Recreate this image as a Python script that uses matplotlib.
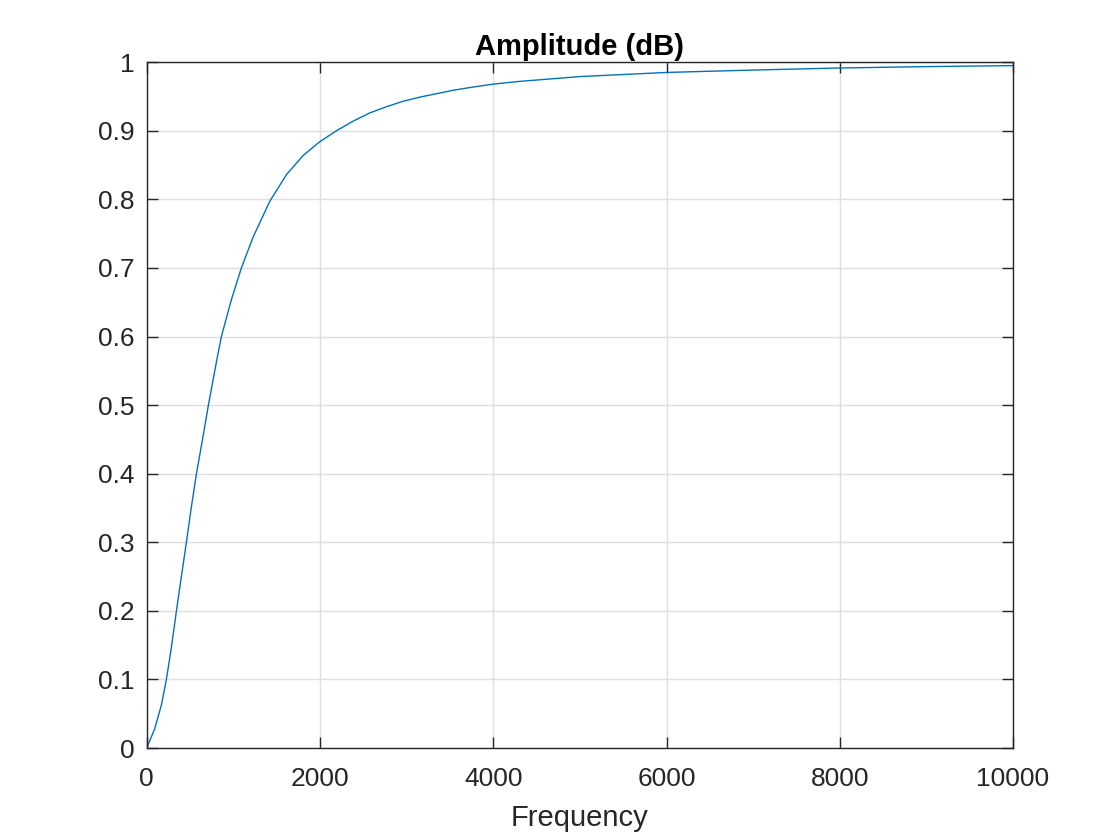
import numpy as np
import matplotlib
matplotlib.use('Agg')
import matplotlib.pyplot as plt

# values
freq = [0, 92, 170, 227, 285, 343, 400, 458, 516, 574, 651, 712, 812, 862, 978,
        1093, 1228, 1420, 1613, 1806, 1998, 2190, 2383, 2575, 2767, 2960, 3152,
        3345, 3537, 3730, 4000, 4307, 5000, 6000, 7000, 8000, 9000, 10000]
amp = [0, 0.028, 0.063, 0.1, 0.147, 0.2, 0.25, 0.3, 0.352, 0.4, 0.455, 0.5, 0.568,
       0.6, 0.654, 0.7, 0.745, 0.797, 0.836, 0.864, 0.884, 0.9, 0.914, 0.926,
       0.935, 0.943, 0.949, 0.954, 0.959, 0.963, 0.968, 0.972, 0.979, 0.985,
       0.9885, 0.9915, 0.9935, 0.995]
xticks = [0, 2000, 4000, 6000, 8000, 10000]
yticks = [0, 0.1, 0.2, 0.3, 0.4, 0.5, 0.6, 0.7, 0.8, 0.9, 1]
ytick_labels = ['0', '0.1', '0.2', '0.3', '0.4', '0.5', '0.6', '0.7', '0.8', '0.9', '1']

plt.rcParams['font.family'] = ['Liberation Sans', 'DejaVu Sans']

fig = plt.figure(figsize=(11.2, 8.4), dpi=100)
ax = fig.add_axes([0.131, 0.1095, 0.7735, 0.8165])

ax.plot(freq, amp, color='#0072BD', linewidth=1.0)

ax.set_xlim(0, 10000)
ax.set_ylim(0, 1)
ax.set_xticks(xticks)
ax.set_yticks(yticks)
ax.set_yticklabels(ytick_labels)
ax.grid(True, color='#dfdfdf', linewidth=1.0)
ax.set_axisbelow(True)

axis_col = '#262626'
for s in ax.spines.values():
    s.set_color(axis_col)
    s.set_linewidth(1.0)
ax.tick_params(direction='in', length=8, width=1.0, colors=axis_col,
               top=True, right=True, labelsize=19, pad=9)
ax.tick_params(axis='x', pad=14)

ax.set_xlabel('Frequency', fontsize=21, color=axis_col, labelpad=9)
ax.set_title('Amplitude (dB)', fontsize=21, fontweight='bold', color='black', pad=5)

fig.savefig('out.png', dpi=100)
